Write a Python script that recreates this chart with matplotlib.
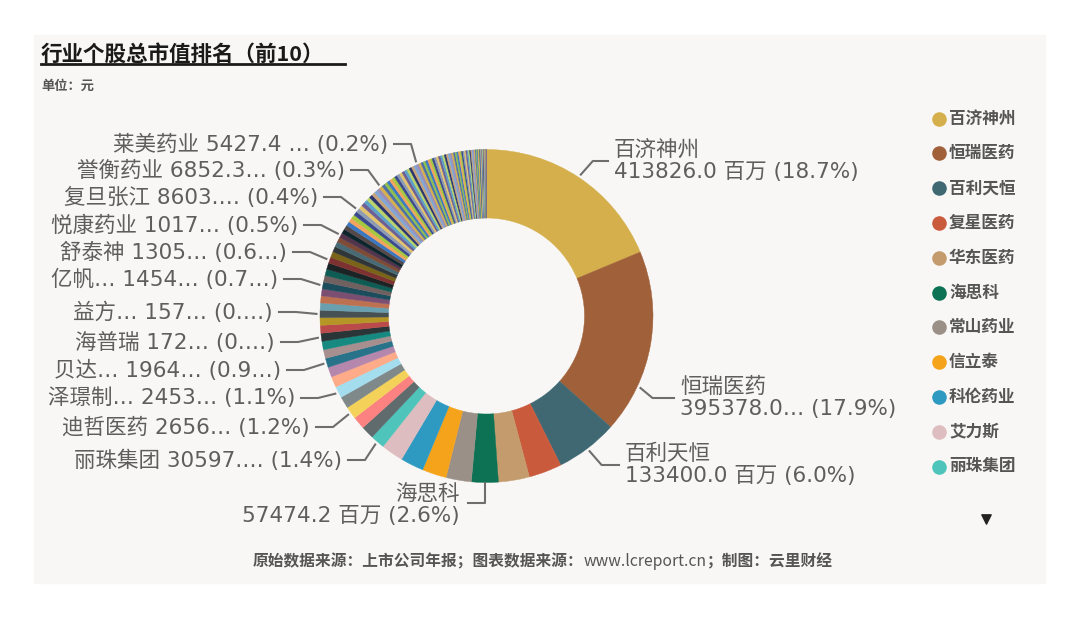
import numpy as np
import matplotlib
matplotlib.use('Agg')
import matplotlib.pyplot as plt
from matplotlib.patches import Rectangle

plt.rcParams['font.family'] = ['DejaVu Sans', 'Noto Sans CJK SC']

# market value in million yuan, in drawing order (clockwise from 12 o'clock)
names = ['百济神州', '恒瑞医药', '百利天恒', '复星医药', '华东医药', '海思科',
         '常山药业', '信立泰', '科伦药业', '艾力斯', '丽珠集团',
         '', '', '迪哲医药', '', '泽璟制药', '', '', '贝达药业', '', '', '海普瑞',
         '', '', '益方生物', '', '', '', '亿帆医药', '', '', '', '舒泰神',
         '', '', '', '', '悦康药业', '', '', '', '', '', '', '复旦张江',
         '', '', '', '', '', '', '', '', '誉衡药业',
         '', '', '', '', '', '', '', '', '', '', '', '', '', '', '莱美药业']
values = [413826.0, 395378.0, 133400.0, 70800, 66400, 57474.2,
          54200, 52000, 49800, 47600, 30597.5,
          27700, 27100, 26563, 25500, 24534, 23000, 21500, 19645, 18700, 18000, 17230,
          16800, 16300, 15740, 15500, 15200, 14900, 14545, 14200, 13900, 13500, 13055,
          12400, 11700, 11100, 10600, 10178, 9700, 9500, 9200, 9000, 8850, 8700, 8603.4,
          8300, 8100, 7900, 7700, 7500, 7300, 7100, 7000, 6852.3,
          6750, 6600, 6500, 6400, 6300, 6200, 6100, 6000, 5900, 5800, 5700, 5650, 5550, 5480, 5427.4,
          5350, 5250, 5150, 5050, 4950, 4850, 4750, 4650, 4550, 4450,
          4350, 4240, 4160, 4050, 3950, 3860, 3740, 3650, 3560, 3440, 3350, 3270,
          3150, 3050, 2960, 2850, 2760, 2650, 2540, 2460, 2350, 2240, 2150, 2060,
          1950, 1850, 1760, 1650, 1560, 1450, 1350, 1260, 1150, 1050,
          980, 900, 820, 750, 680, 600, 520, 450, 380, 300, 240, 180, 120, 80]
names = names + [''] * (len(values) - len(names))

top_colors = ['#D4AF4B', '#A0613A', '#3F6873', '#C95A3C', '#C49B6C', '#0D7153',
              '#9B9088', '#F6A31C', '#2E9AC1', '#DDBDC0', '#4EC4BA']
theme_colors = ['#5F6B6D', '#FB8281', '#F4D25A', '#7F898A', '#A4DDEE', '#FDAB89',
                '#B687AC', '#28738A', '#A78F8F', '#168980', '#293537', '#BB4A4A',
                '#B59525', '#475052', '#6A9FB0', '#BD7150', '#7B4F71', '#1B4D5C',
                '#706060', '#0F5C55', '#1C2325', '#7D3231', '#796419', '#303637',
                '#476A75', '#7E4B36', '#52354C', '#0D262E', '#544848']
tail_colors = ['#3A78C2', '#F2A35E', '#A4C93E', '#3B4A8F', '#8D9BB5', '#E3C46C',
               '#6D5E93', '#5DA0C9', '#B8D46A', '#2C3570', '#C7A37A', '#7EA7D8',
               '#9B8DB5', '#D6B04C', '#4C6FA8', '#8FBF4F']

# labels as displayed (truncated by the original tool)
left_labels = {
    '莱美药业': ('莱美药业 5427.4 … (0.2%)', 388, 144),
    '誉衡药业': ('誉衡药业 6852.3… (0.3%)', 345, 170),
    '复旦张江': ('复旦张江 8603.… (0.4%)', 318, 197),
    '悦康药业': ('悦康药业 1017… (0.5%)', 298, 225),
    '舒泰神': ('舒泰神 1305… (0.6…)', 287, 252),
    '亿帆医药': ('亿帆… 1454… (0.7…)', 278, 279),
    '益方生物': ('益方… 157… (0.…)', 273, 312),
    '海普瑞': ('海普瑞 172… (0.…)', 275, 342),
    '贝达药业': ('贝达… 1964… (0.9…)', 281, 370),
    '泽璟制药': ('泽璟制… 2453… (1.1%)', 295, 398),
    '迪哲医药': ('迪哲医药 2656… (1.2%)', 310, 427),
    '丽珠集团': ('丽珠集团 30597.… (1.4%)', 342, 460),
}
# text, text x, elbow y, where along the slice the leader starts
right_labels = {
    '百济神州': ('百济神州\n413826.0 百万 (18.7%)', 614, 161, 0.5),
    '恒瑞医药': ('恒瑞医药\n395378.0… (17.9%)', 680, 398, 0.74),
    '百利天恒': ('百利天恒\n133400.0 百万 (6.0%)', 625, 465, 0.5),
}
bottom_label = ('海思科', '海思科\n57474.2 百万 (2.6%)')
footer_parts = ['原始数据来源：上市公司年报；图表数据来源：', 'www.lcreport.cn', '；制图：云里财经']

W, H = 1080, 618
fig = plt.figure(figsize=(W / 100, H / 100), dpi=100)
fig.patch.set_facecolor('white')
ax = fig.add_axes([0, 0, 1, 1])
ax.add_patch(Rectangle((34, 35), 1011, 548, color='#F9F7F5', zorder=0))

colors = (top_colors + theme_colors + tail_colors * 10)[:len(values)]
cx, cy, R = 486.5, 316, 166.5
wedges, _ = ax.pie(values, colors=colors, startangle=-90, counterclock=True,
                   center=(cx, cy), radius=R,
                   wedgeprops=dict(width=68.5, linewidth=0))
for w in wedges:
    w.set_edgecolor(w.get_facecolor())
    w.set_linewidth(0.3)
    w.set_zorder(2)

ax.set_xlim(0, W)
ax.set_ylim(H, 0)
ax.set_aspect('auto')
ax.axis('off')

txt_col = '#5E5E5E'
line_col = '#6E6E6E'
fs = 15.5


def anchor(w, r=170, frac=0.5):
    m = np.radians(w.theta1 + frac * (w.theta2 - w.theta1))
    return cx + r * np.cos(m), cy + r * np.sin(m)


for i, nm in enumerate(names):
    if nm in left_labels:
        s, xe, y = left_labels[nm]
        axx, ayy = anchor(wedges[i])
        ax.plot([xe + 6, xe + 23, axx], [y, y, ayy], color=line_col, lw=1.5, zorder=3)
        ax.text(xe, y, s, ha='right', va='center', fontsize=fs, color=txt_col)
    elif nm in right_labels:
        s, xt, y, frac = right_labels[nm]
        axx, ayy = anchor(wedges[i], frac=frac)
        ax.plot([axx, axx + 12, xt - 6], [ayy, y, y], color=line_col, lw=1.5, zorder=3)
        ax.text(xt, y, s, ha='left', va='center', fontsize=fs, color=txt_col,
                linespacing=1.12)
    elif nm == bottom_label[0]:
        axx, ayy = anchor(wedges[i], 167)
        ax.plot([axx, axx, 468], [ayy, 503, 503], color=line_col, lw=1.5, zorder=3)
        ax.text(460, 505, bottom_label[1], ha='right', va='center', fontsize=fs,
                color=txt_col, linespacing=1.12, multialignment='right')

# legend
for i in range(len(top_colors)):
    y = 118.5 + i * 34.8
    ax.scatter([939], [y], s=110, color=top_colors[i], zorder=4, linewidths=0)
    ax.text(949, y, names[i], ha='left', va='center', fontsize=12,
            color='#555555', fontweight='bold')
ax.scatter([986], [519], marker='v', s=45, color='#222222', zorder=4)

# title and notes
cjk = ['Noto Sans CJK SC', 'DejaVu Sans']
ax.text(41, 54, '行业个股总市值排名（前10）', ha='left', va='center', fontsize=15.5,
        color='#1A1A1A', fontweight='bold', family=cjk)
ax.plot([41, 345], [64, 64], color='#1A1A1A', lw=2)
ax.text(41, 86, '单位：元', ha='left', va='center', fontsize=9.5, color='#555555',
        fontweight='bold', family=cjk)

# footer: url in normal weight, rest bold
renderer = fig.canvas.get_renderer()
x = 253
for part in footer_parts:
    wt = 'normal' if part.startswith('www') else 'bold'
    t = ax.text(x, 561, part, ha='left', va='center', fontsize=11.3, color='#555555',
                fontweight=wt, family=cjk)
    x += t.get_window_extent(renderer).width

fig.savefig('out.png', dpi=100, facecolor='white')
